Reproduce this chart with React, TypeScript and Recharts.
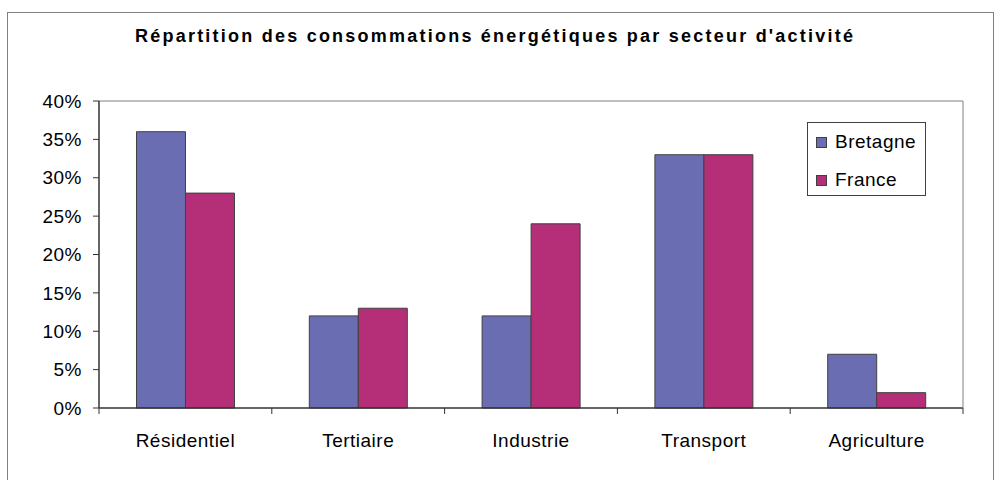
import React from 'react';
import { BarChart, Bar, XAxis, YAxis, ReferenceLine } from 'recharts';

const categories = ['Résidentiel', 'Tertiaire', 'Industrie', 'Transport', 'Agriculture'];
const bretagne = [36, 12, 12, 33, 7];
const france = [28, 13, 24, 33, 2];
const yTicks = [0, 5, 10, 15, 20, 25, 30, 35, 40];
const seriesNames = ['Bretagne', 'France'];
const seriesColors = ['#6B6DB3', '#B52E78'];
const title = "Répartition des consommations énergétiques par secteur d'activité";

const data = categories.map((c, i) => ({ name: c, Bretagne: bretagne[i], France: france[i] }));

const FONT = '"Liberation Sans", Arial, sans-serif';

const XTick = (props: any) => {
  const { x, y, payload, index } = props;
  const off = payload.offset || 0;
  const last = index === categories.length - 1;
  return (
    <g>
      <line x1={x - off} y1={y - 8} x2={x - off} y2={y - 2} stroke="#333" />
      {last && <line x1={x + off} y1={y - 8} x2={x + off} y2={y - 2} stroke="#333" />}
      <text x={x} y={y + 31} textAnchor="middle" fontFamily={FONT} fontSize={19} letterSpacing={0.5} fill="#000">
        {payload.value}
      </text>
    </g>
  );
};

const LegendBox = () => (
  <div
    style={{
      position: 'absolute',
      left: 807,
      top: 122,
      width: 117,
      height: 72,
      border: '1px solid #404040',
      background: '#fff',
      fontFamily: FONT,
      fontSize: 19,
      letterSpacing: 0.5,
    }}
  >
    {seriesNames.map((n, i) => (
      <div key={n} style={{ position: 'absolute', left: 8, top: 8 + i * 38, display: 'flex', alignItems: 'center' }}>
        <span style={{ display: 'inline-block', width: 9, height: 9, background: seriesColors[i], border: '1px solid #404040', marginRight: 8 }} />
        <span>{n}</span>
      </div>
    ))}
  </div>
);

export default function App() {
  return (
    <div style={{ position: 'absolute', left: 0, top: 0, width: 994, height: 480, background: '#fff', overflow: 'hidden' }}>
      <div style={{ position: 'absolute', left: 7, top: 12, width: 985, height: 480, border: '1px solid #808080' }} />
      <svg style={{ position: 'absolute', left: 0, top: 0 }} width={994} height={60}>
        <text
          x={494}
          y={42}
          textAnchor="middle"
          fontFamily={FONT}
          fontWeight="bold"
          fontSize={18}
          textLength={718}
          lengthAdjust="spacing"
          fill="#000"
        >
          {title}
        </text>
      </svg>
      <div style={{ position: 'absolute', left: 0, top: 0 }}>
        <BarChart
          width={994}
          height={480}
          data={data}
          margin={{ top: 101, right: 30, bottom: 0, left: 0 }}
          barCategoryGap="21.7%"
          barGap={0}
        >
          <XAxis
            dataKey="name"
            axisLine={{ stroke: '#333', strokeWidth: 1.5 }}
            tickLine={false}
            tick={<XTick />}
            interval={0}
            height={72}
          />
          <YAxis
            domain={[0, 40]}
            ticks={yTicks}
            tickFormatter={(v: number) => `${v}%`}
            axisLine={{ stroke: '#333', strokeWidth: 1.5 }}
            tickLine={{ stroke: '#333' }}
            tickSize={6}
            tickMargin={11}
            width={99}
            tick={{ fontFamily: FONT, fontSize: 19, fill: '#000', letterSpacing: 0.5 }}
            interval={0}
          />
          <YAxis
            yAxisId="right"
            orientation="right"
            domain={[0, 40]}
            width={1}
            tick={false}
            tickLine={false}
            axisLine={{ stroke: '#808080' }}
          />
          <ReferenceLine y={40} stroke="#808080" />
          <Bar dataKey="Bretagne" fill={seriesColors[0]} stroke="#404040" strokeWidth={1} isAnimationActive={false} />
          <Bar dataKey="France" fill={seriesColors[1]} stroke="#404040" strokeWidth={1} isAnimationActive={false} />
        </BarChart>
      </div>
      <LegendBox />
    </div>
  );
}
